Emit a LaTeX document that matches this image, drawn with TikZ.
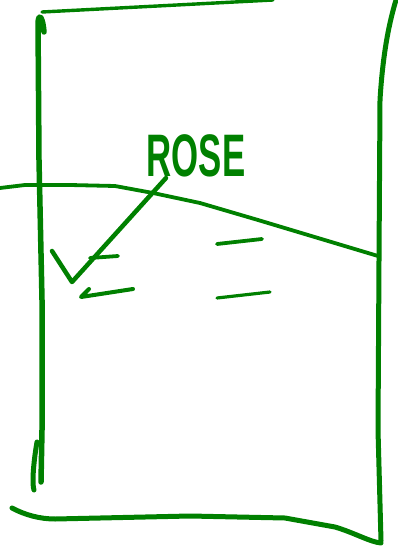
\documentclass[tikz,border=0pt]{standalone}
\usepackage{fontspec}
\setsansfont{Liberation Sans}
\definecolor{penGreen}{RGB}{0,128,0}
\begin{document}
\begin{tikzpicture}[x=1pt,y=-1pt,line cap=round,line join=round]
  \useasboundingbox (0,0) rectangle (398,548);
  % beaker
  \draw[penGreen,line width=5.5pt] (44,32) .. controls (43,18) and (39,12) .. (38,22) -- (39,160) -- (42,300) -- (42,430) -- (41,482);
  \draw[penGreen,line width=5pt] (37,442) .. controls (33,465) and (32,485) .. (34,490);
  \draw[penGreen,line width=3.4pt] (42,12) -- (273,0);
  \draw[penGreen,line width=5pt] (396,0) .. controls (390,20) and (383,50) .. (380,100) -- (379,260) -- (378,430) -- (381,541);
  \draw[penGreen,line width=5pt] (12,508) .. controls (25,515) and (40,519) .. (55,519) -- (190,516) -- (285,518) -- (335,527) .. controls (355,533) and (370,542) .. (381,543);
  % liquid level
  \draw[penGreen,line width=3.8pt] (0,188) -- (25,185) -- (70,185) -- (115,186) -- (153,193) -- (200,203) -- (258,220) -- (378,256);
  % marks
  \draw[penGreen,line width=3.8pt] (90,258) -- (118,256);
  \draw[penGreen,line width=4pt] (89,289) -- (81,297) -- (133,289);
  \draw[penGreen,line width=3.8pt] (217,244) -- (262,239);
  \draw[penGreen,line width=3.2pt] (217,298) -- (270,292);
  % label and arrow
  \node[penGreen,font=\sffamily\bfseries\fontsize{60}{60}\selectfont,xscale=0.58,inner sep=0pt] (rose) at (196,156) {ROSE};
  \draw[penGreen,line width=4.5pt] (166,178) -- (72,282) -- (52,251);
\end{tikzpicture}
\end{document}
